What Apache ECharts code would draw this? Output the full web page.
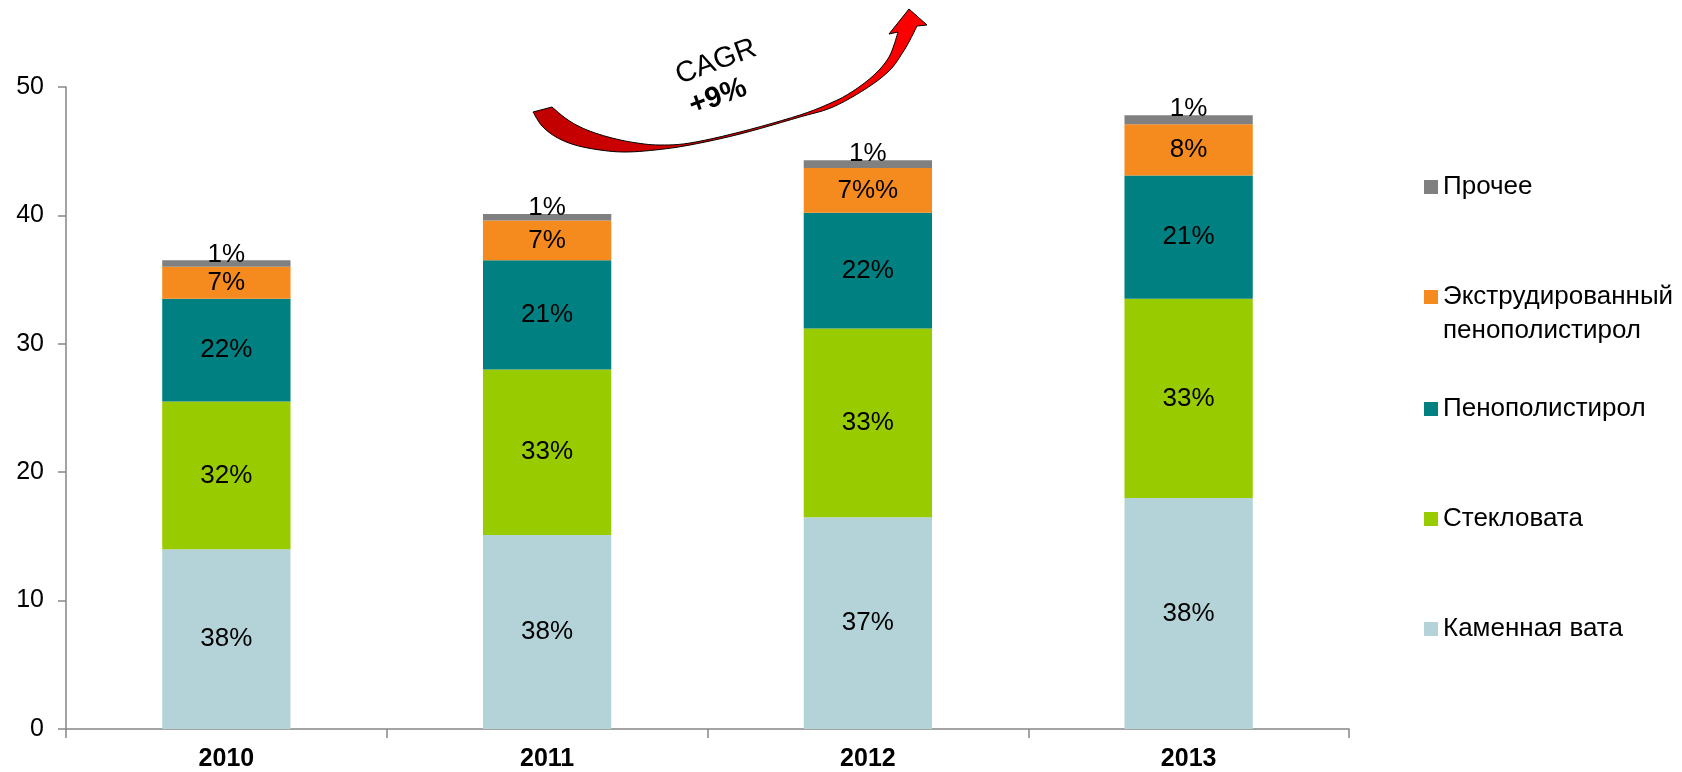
<!DOCTYPE html>
<html>
<head>
<meta charset="utf-8">
<script src="https://cdn.jsdelivr.net/npm/echarts@6/dist/echarts.min.js"></script>
<style>
  html, body { margin: 0; padding: 0; background: #fff; }
  #chart { width: 1682px; height: 772px; }
</style>
</head>
<body>
<div id="chart"></div>
<script>
  // категории и значения (по картинке)
  const years = ['2010', '2011', '2012', '2013']
  const kamennaya = [14, 15.1, 16.5, 18]
  const steklovata = [11.5, 12.9, 14.7, 15.5]
  const penopolistirol = [8, 8.5, 9, 9.6]
  const ekstrud = [2.5, 3.1, 3.5, 4.0]
  const prochee = [0.5, 0.5, 0.6, 0.7]

  // подписи долей
  const kamLabels = ['38%', '38%', '37%', '38%']
  const stekLabels = ['32%', '33%', '33%', '33%']
  const penLabels = ['22%', '21%', '22%', '21%']
  const ekstrLabels = ['7%', '7%', '7%%', '8%']
  const procheLabels = ['1%', '1%', '1%', '1%']

  const yTicks = { min: 0, max: 50, interval: 10 }

  const font = "'Liberation Sans', Arial, sans-serif"

  let chart = echarts.init(document.getElementById('chart'))

  function makeSeries(name, data, labels, color, pos) {
    return {
      name: name,
      type: 'bar',
      stack: 'total',
      barWidth: '40%',
      data: data,
      itemStyle: { color: color },
      label: {
        show: true,
        position: pos || 'inside',
        distance: pos ? -7 : 5,
        color: '#000',
        fontFamily: font,
        fontSize: 26,
        formatter: (p) => labels[p.dataIndex]
      }
    }
  }

  function makeLegend(name, top, multi) {
    return {
      data: [name],
      left: 1424,
      top: top,
      padding: 0,
      icon: 'rect',
      itemWidth: 14,
      itemHeight: 14,
      selectedMode: false,
      formatter: multi ? ' \nЭкструдированный\nпенополистирол' : '{name}',
      textStyle: { fontFamily: font, fontSize: 26, color: '#000', lineHeight: 34 }
    }
  }

  // кривая стрелка CAGR (оформление, не данные)
  function spline(pts, n) {
    let out = []
    for (let i = 0; i < pts.length - 1; i++) {
      let p0 = pts[Math.max(i - 1, 0)], p1 = pts[i], p2 = pts[i + 1], p3 = pts[Math.min(i + 2, pts.length - 1)]
      for (let k = 0; k < n; k++) {
        let t = k / n, t2 = t * t, t3 = t2 * t
        out.push([0, 1].map(j => 0.5 * ((2 * p1[j]) + (-p0[j] + p2[j]) * t +
          (2 * p0[j] - 5 * p1[j] + 4 * p2[j] - p3[j]) * t2 + (-p0[j] + 3 * p1[j] - 3 * p2[j] + p3[j]) * t3)))
      }
    }
    out.push(pts[pts.length - 1])
    return out
  }
  const arrowLower = [[533, 112], [542, 126], [556, 137], [575, 145], [600, 150], [625, 152], [655, 150],
    [690, 145], [740, 134], [800, 117], [833, 107], [867, 88], [890, 70], [903, 52], [910, 40], [917, 26]]
  const arrowUpper = [[898, 32], [894, 45], [889, 57], [880, 69], [867, 81], [850, 93], [833, 102],
    [800, 115], [740, 132], [690, 143], [660, 145], [637, 143], [612, 138], [587, 130], [568, 120], [552, 107]]
  const arrowHead = [[927, 25], [909, 9], [889, 34]]
  const arrowPts = [].concat(spline(arrowLower, 6), arrowHead, spline(arrowUpper, 6))

  chart.setOption({
    backgroundColor: '#fff',
    animation: false,
    grid: { left: 66, right: 333, top: 87, bottom: 40 },
    legend: [
      makeLegend('Прочее', 170),
      makeLegend('Экструдированный пенополистирол', 246, true),
      makeLegend('Пенополистирол', 392),
      makeLegend('Стекловата', 502),
      makeLegend('Каменная вата', 612)
    ],
    xAxis: {
      type: 'category',
      data: years,
      axisLine: { lineStyle: { color: '#868686', width: 1.5 } },
      axisTick: { show: true, length: 9, lineStyle: { color: '#868686', width: 1.5 } },
      axisLabel: { color: '#000', fontFamily: font, fontSize: 25, fontWeight: 'bold', margin: 18 }
    },
    yAxis: {
      type: 'value',
      min: yTicks.min,
      max: yTicks.max,
      interval: yTicks.interval,
      splitLine: { show: false },
      axisLine: { show: true, lineStyle: { color: '#868686', width: 1.5 } },
      axisTick: { show: true, length: 8, lineStyle: { color: '#868686', width: 1.5 } },
      axisLabel: { color: '#000', fontFamily: font, fontSize: 25, margin: 22 }
    },
    series: [
      makeSeries('Каменная вата', kamennaya, kamLabels, '#b4d3d8'),
      makeSeries('Стекловата', steklovata, stekLabels, '#99cc00'),
      makeSeries('Пенополистирол', penopolistirol, penLabels, '#008080'),
      makeSeries('Экструдированный пенополистирол', ekstrud, ekstrLabels, '#f58a1f'),
      makeSeries('Прочее', prochee, procheLabels, '#808080', 'top')
    ],
    graphic: [
      {
        type: 'polygon',
        shape: { points: arrowPts },
        style: {
          fill: {
            type: 'linear', x: 0, y: 0, x2: 1, y2: 0,
            colorStops: [
              { offset: 0, color: '#c00000' },
              { offset: 0.45, color: '#d80000' },
              { offset: 1, color: '#ff0000' }
            ]
          },
          stroke: '#000',
          lineWidth: 1
        }
      },
      {
        type: 'text',
        x: 716,
        y: 62,
        rotation: 0.35,
        style: { text: 'CAGR', fontFamily: font, fontSize: 29, fill: '#000', align: 'center', verticalAlign: 'middle' }
      },
      {
        type: 'text',
        x: 718,
        y: 97,
        rotation: 0.35,
        style: { text: '+9%', fontFamily: font, fontSize: 29, fontWeight: 'bold', fill: '#000', align: 'center', verticalAlign: 'middle' }
      }
    ]
  })
</script>
</body>
</html>
